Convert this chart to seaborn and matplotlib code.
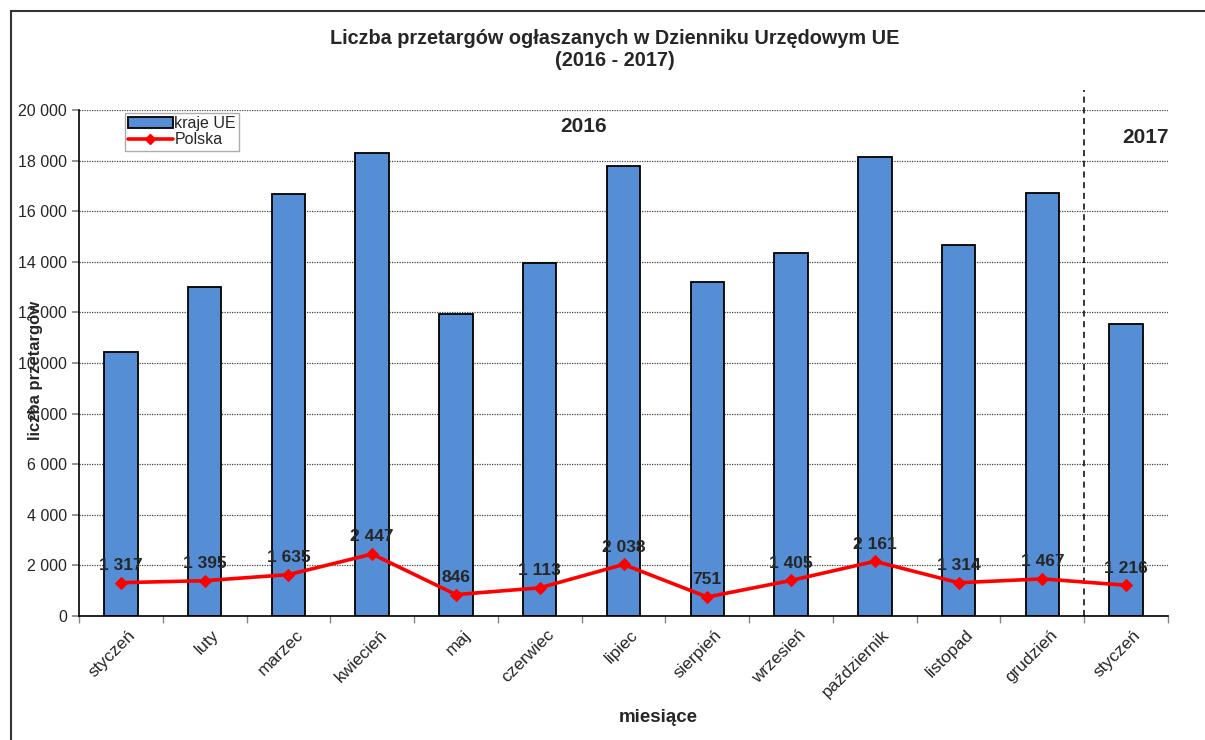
import numpy as np
import pandas as pd
import matplotlib
matplotlib.use("Agg")
import matplotlib.pyplot as plt
import matplotlib.ticker as mticker
import matplotlib.transforms as mtransforms
from matplotlib.patches import Rectangle
from matplotlib.lines import Line2D
from matplotlib.patches import Patch
import seaborn as sns

months = ["styczeń", "luty", "marzec", "kwiecień", "maj", "czerwiec", "lipiec",
          "sierpień", "wrzesień", "październik", "listopad", "grudzień", "styczeń"]
kraje_ue = [10450, 12990, 16690, 18290, 11950, 13950, 17770,
            13210, 14360, 18150, 14650, 16700, 11530]
polska = [1317, 1395, 1635, 2447, 846, 1113, 2038, 751, 1405, 2161, 1314, 1467, 1216]
yticks = list(range(0, 20001, 2000))

sns.set_theme(style="white")
plt.rcParams["font.family"] = ["Liberation Sans", "DejaVu Sans"]

def fmt(v):
    return f"{v:,.0f}".replace(",", " ")

W, H = 1205, 740
fig = plt.figure(figsize=(W / 100, H / 100), dpi=100)
ax = fig.add_axes([79 / W, 1 - 616 / H, (1168 - 79) / W, (616 - 110) / H])

df = pd.DataFrame({"pos": [f"{m}_{i}" for i, m in enumerate(months)],
                   "ue": kraje_ue, "pl": polska, "x": np.arange(len(months))})

sns.barplot(data=df, x="pos", y="ue", color="#558ED5", saturation=1, width=0.4,
            edgecolor="black", linewidth=1.3, ax=ax, zorder=2)
sns.lineplot(data=df, x="x", y="pl", color="#FF0000", linewidth=2.6, marker="D",
             markersize=6.5, markeredgecolor="#FF0000", ax=ax, zorder=4)

for i, v in enumerate(polska):
    ax.annotate(fmt(v), (i, v), xytext=(0, 7), textcoords="offset points",
                ha="center", va="bottom", fontsize=12.5, fontweight="bold", zorder=5)

ax.set_xlim(-0.5, len(months) - 0.5)
ax.set_ylim(0, 20000)
ax.set_yticks(yticks)
ax.yaxis.set_major_formatter(mticker.FuncFormatter(lambda v, p: fmt(v)))
ax.set_xticks(np.arange(len(months)))
ax.set_xticklabels(months, rotation=45, ha="right", rotation_mode="anchor", fontsize=12.5)
ax.set_xticks(np.arange(len(months) + 1) - 0.5, minor=True)
ax.tick_params(axis="x", which="major", length=0, pad=8)
ax.tick_params(axis="x", which="minor", length=5, color="#888888", width=1, direction="out", bottom=True)
ax.tick_params(axis="y", length=5, color="#888888", labelsize=11.5, direction="out", left=True)
shift = mtransforms.ScaledTranslation(7 / 100, 0, fig.dpi_scale_trans)
for lbl in ax.get_xticklabels():
    lbl.set_transform(lbl.get_transform() + shift)
ax.set_xlabel("")
ax.set_ylabel("")
ax.yaxis.grid(True, linestyle=(0, (1, 1)), color="#444444", linewidth=0.9, zorder=0)
ax.set_axisbelow(True)
for s in ["top", "right"]:
    ax.spines[s].set_visible(False)
for s in ["left", "bottom"]:
    ax.spines[s].set_color("black")
    ax.spines[s].set_linewidth(1.2)

ax.plot([11.5, 11.5], [0, 20800], linestyle=(0, (4, 3)), color="black",
        linewidth=1.1, clip_on=False, zorder=3)

ax.text(5.52, 19330, "2016", ha="center", va="center", fontsize=15, fontweight="bold")
ax.text(12.23, 18930, "2017", ha="center", va="center", fontsize=15, fontweight="bold")

handles = [Patch(facecolor="#558ED5", edgecolor="black", linewidth=1.3),
           Line2D([0], [0], color="#FF0000", linewidth=2.6, marker="D", markersize=5)]
leg = ax.legend(handles, ["kraje UE", "Polska"], loc="upper left",
                bbox_to_anchor=(0.042, 0.995), fontsize=11.5, frameon=True,
                fancybox=False, edgecolor="#999999", borderpad=0.2,
                handlelength=2.8, handletextpad=0.1, labelspacing=0.1,
                borderaxespad=0)
leg.get_frame().set_linewidth(1.0)

fig.text(615 / W, 1 - 49 / H,
         "Liczba przetargów ogłaszanych w Dzienniku Urzędowym UE\n(2016 - 2017)",
         ha="center", va="center", fontsize=14.3, fontweight="bold", linespacing=1.2)
fig.text(36 / W, 1 - 370 / H, "liczba przetargów", rotation=90, ha="center",
         va="center", fontsize=12, fontweight="bold")
fig.text(658 / W, 1 - 718 / H, "miesiące", ha="center", va="center",
         fontsize=13.5, fontweight="bold")

fig.add_artist(Rectangle((10.5 / W, -0.1), 1.1, 1.1 - 11.5 / H, transform=fig.transFigure,
                         fill=False, edgecolor="#333333", linewidth=1.5))

fig.savefig("out.png", dpi=100)
